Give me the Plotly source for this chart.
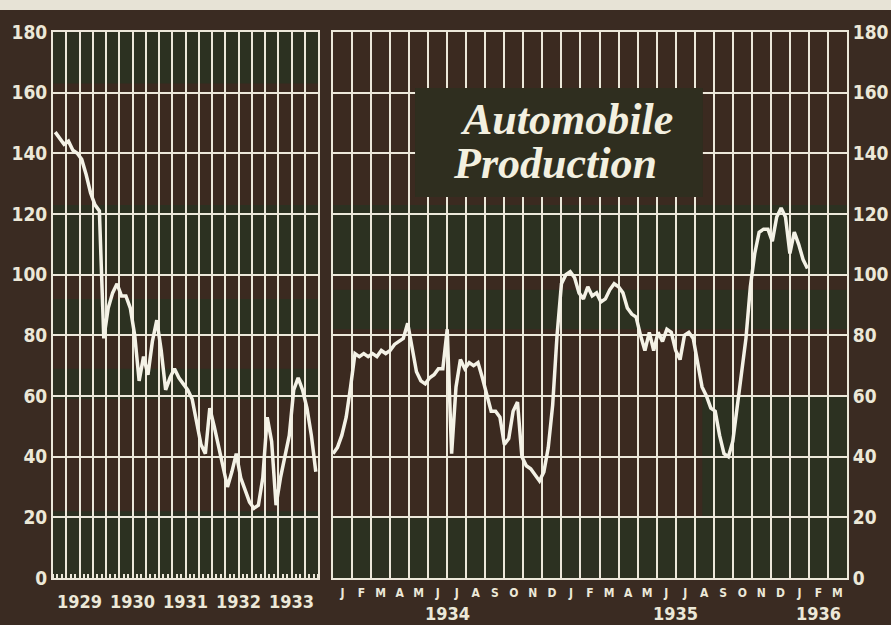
import plotly.graph_objects as go

# ---------------- data ----------------
y_tick_values = [0, 20, 40, 60, 80, 100, 120, 140, 160, 180]
left_year_labels = ["1929", "1930", "1931", "1932", "1933"]
# monthly index, Jan 1929 .. Dec 1933
left_values = [147, 145, 143, 144, 141, 140, 138, 133, 127, 123, 121, 79,
               89, 94, 97, 93, 93, 89, 80, 65, 73, 67, 78, 85,
               75, 62, 66, 69, 66, 64, 62, 59, 52, 44, 41, 56,
               50, 43, 36, 30, 35, 41, 33, 29, 25, 23, 24, 33,
               53, 45, 24, 33, 40, 47, 62, 66, 62, 56, 47, 35]
month_labels = ["J", "F", "M", "A", "M", "J", "J", "A", "S", "O", "N", "D",
                "J", "F", "M", "A", "M", "J", "J", "A", "S", "O", "N", "D",
                "J", "F", "M"]
right_year_labels = ["1934", "1935", "1936"]
right_year_pos = [6, 18, 25.5]
# weekly index from Jan 1934
right_values = [41, 43, 47, 53, 63, 74, 73, 74, 73, 74, 73, 75, 74, 75, 77, 78,
                79, 84, 76, 68, 65, 64, 66, 67, 69, 69, 82, 41, 63, 72, 69, 71,
                70, 71, 66, 60, 55, 55, 53, 44, 46, 55, 58, 40, 37, 36, 34, 32,
                35, 43, 57, 80, 97, 100, 101, 99, 94, 92, 96, 93, 94, 91, 92, 95,
                97, 96, 94, 89, 87, 86, 80, 75, 81, 75, 81, 78, 82, 81, 75, 72,
                80, 81, 79, 71, 63, 60, 56, 55, 47, 41, 40, 45, 57, 68, 79, 96,
                107, 114, 115, 115, 111, 119, 122, 119, 107, 114, 110, 105, 102]

# ---------------- style ----------------
W, H = 891, 625
ML, MR, MT, MB = 53, 44, 32, 47
PW, PH = W - ML - MR, H - MT - MB
FRAME = "#3a2b22"
BROWN = "#3b2a20"
GREEN = "#2c3121"
OLIVE = "#2f2e1f"
GRID = "#ece8da"
LINE = "#f4f2e6"
TXT = "#ece8d8"
COND = "DejaVu Sans Condensed, DejaVu Sans, sans-serif"


def px_x(px):
    return (px - ML) / PW


def px_y(py):
    return (H - MB - py) / PH


left_dom = [0, px_x(318)]
right_dom = [px_x(333), 1.0]

fig = go.Figure()
fig.add_trace(go.Scatter(
    x=[m + 0.5 for m in range(len(left_values))], y=left_values,
    xaxis="x", yaxis="y", mode="lines",
    line=dict(color=LINE, width=3.5), hoverinfo="skip", showlegend=False))
fig.add_trace(go.Scatter(
    x=[w * 12 / 52 for w in range(len(right_values))], y=right_values,
    xaxis="x2", yaxis="y2", mode="lines",
    line=dict(color=LINE, width=3.5), hoverinfo="skip", showlegend=False))

left_tickvals = list(range(0, 61, 3))
left_ticktext = []
for v in left_tickvals:
    if v % 12 == 6 and v // 12 < len(left_year_labels):
        left_ticktext.append(left_year_labels[v // 12])
    else:
        left_ticktext.append("")

axis_common = dict(showline=True, linecolor=GRID, linewidth=2, mirror=True,
                   zeroline=False, ticks="", automargin=False, tickangle=0)

fig.update_layout(
    width=W, height=H,
    margin=dict(l=ML, r=MR, t=MT, b=MB, pad=0, autoexpand=False),
    paper_bgcolor=FRAME, plot_bgcolor=BROWN,
    showlegend=False,
    xaxis=dict(domain=left_dom, range=[0, 60], anchor="y",
               tickmode="array", tickvals=left_tickvals, ticktext=left_ticktext,
               showgrid=True, gridcolor=GRID, gridwidth=2,
               tickfont=dict(family=COND, size=18, color=TXT, weight="bold"),
               ticklabelstandoff=6,
               minor=dict(tickmode="array", tickvals=list(range(61)),
                          ticks="inside", ticklen=4, tickwidth=1.5,
                          tickcolor=GRID, showgrid=False),
               **axis_common),
    yaxis=dict(domain=[0, 1], range=[0, 180], anchor="x",
               tickmode="array", tickvals=y_tick_values,
               showgrid=True, gridcolor=GRID, gridwidth=2,
               tickfont=dict(family=COND, size=19, color=TXT, weight="bold"),
               ticklabelstandoff=0,
               **axis_common),
    xaxis2=dict(domain=right_dom, range=[0, 27], anchor="y2",
                tickmode="array", tickvals=[i + 0.5 for i in range(27)],
                ticktext=month_labels, showgrid=False,
                tickfont=dict(family=COND, size=12, color=TXT, weight="bold"),
                ticklabelstandoff=3,
                minor=dict(tickmode="array", tickvals=list(range(28)),
                           showgrid=True, gridcolor=GRID, gridwidth=2, ticks=""),
                **axis_common),
    yaxis2=dict(domain=[0, 1], range=[0, 180], anchor="x2", side="right",
                tickmode="array", tickvals=y_tick_values,
                showgrid=True, gridcolor=GRID, gridwidth=2,
                tickfont=dict(family=COND, size=19, color=TXT, weight="bold"),
                ticklabelstandoff=0,
                **axis_common),
)

shapes = []
# light strip at the very top of the page
shapes.append(dict(type="rect", xref="paper", yref="paper", layer="below",
                   x0=-0.1, x1=1.1, y0=px_y(10), y1=px_y(-5),
                   fillcolor="#e7e3d6", line=dict(width=0)))
# printed colour bands behind the grids
left_bands = [(163, 180), (100, 123), (80, 92), (59, 69), (0, 22)]
right_bands = [(100, 123), (82, 95), (0, 20)]
for y0, y1 in left_bands:
    shapes.append(dict(type="rect", xref="x domain", yref="y", layer="below",
                       x0=0, x1=1, y0=y0, y1=y1, fillcolor=GREEN, line=dict(width=0)))
for y0, y1 in right_bands:
    shapes.append(dict(type="rect", xref="x2 domain", yref="y2", layer="below",
                       x0=0, x1=1, y0=y0, y1=y1, fillcolor=GREEN, line=dict(width=0)))
shapes.append(dict(type="rect", xref="x2", yref="y2", layer="below",
                   x0=19.4, x1=27, y0=20, y1=60, fillcolor=GREEN, line=dict(width=0)))
# title box
shapes.append(dict(type="rect", xref="x2", yref="y2", layer="between",
                   x0=4.31, x1=19.43, y0=125.6, y1=161.5,
                   fillcolor=OLIVE, line=dict(width=0)))
fig.update_layout(shapes=shapes)

annotations = []
for lab, pos in zip(right_year_labels, right_year_pos):
    annotations.append(dict(text=lab, xref="x2", yref="paper", x=pos, y=px_y(613),
                            xanchor="center", yanchor="middle", showarrow=False,
                            font=dict(family=COND, size=18, color=TXT, weight="bold")))
title_font = dict(family="Liberation Serif, serif", size=44, color="#f3f0e0",
                  weight="bold", style="italic")
annotations.append(dict(text="Automobile", xref="x2", yref="y2", x=12.29, y=151,
                        xanchor="center", yanchor="middle", showarrow=False,
                        font=title_font))
annotations.append(dict(text="Production", xref="x2", yref="y2", x=11.66, y=136.5,
                        xanchor="center", yanchor="middle", showarrow=False,
                        font=title_font))
fig.update_layout(annotations=annotations)

fig.write_html("out.html", config={"displayModeBar": False},
               post_script="document.body.style.margin='0';")
